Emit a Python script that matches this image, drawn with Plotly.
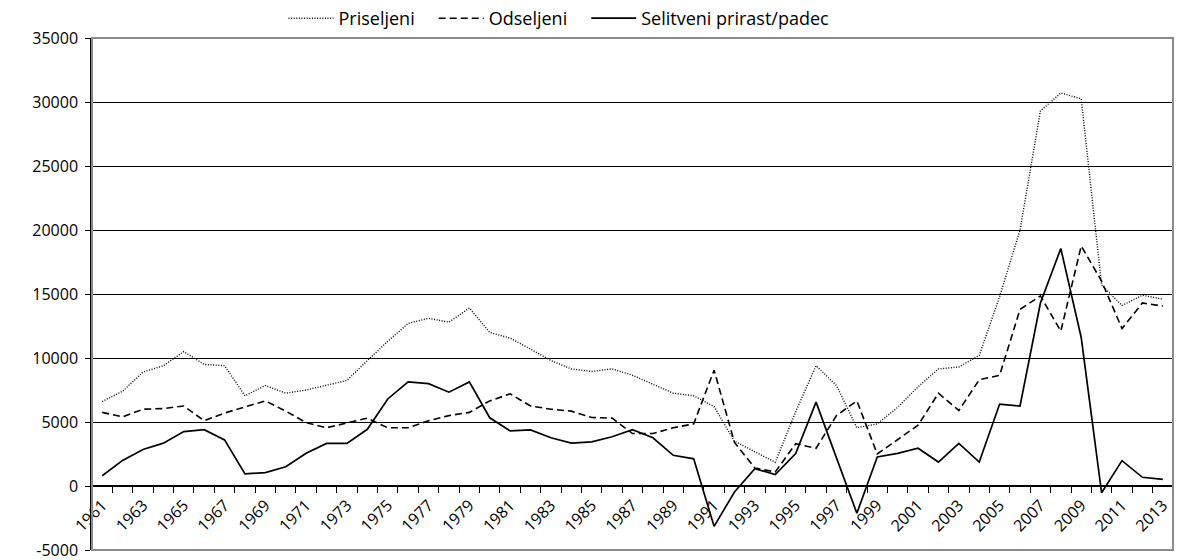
import plotly.graph_objects as go

years = list(range(1961, 2014))

priseljeni = [6600, 7400, 8900, 9400, 10500, 9500, 9400, 7050, 7850, 7250,
              7500, 7850, 8250, 9800, 11300, 12700, 13100, 12800, 13900, 12000,
              11550, 10700, 9800, 9150, 8950, 9150, 8650, 7950, 7250, 7050,
              6200, 3500, 2650, 1850, 5800, 9400, 7850, 4550, 4850, 6150,
              7750, 9150, 9300, 10200, 14800, 20000, 29300, 30700, 30250, 15700,
              14100, 14900, 14600]

odseljeni = [5750, 5400, 6000, 6050, 6250, 5100, 5700, 6150, 6650, 5850,
             4950, 4550, 4950, 5300, 4550, 4550, 5100, 5500, 5750, 6650,
             7200, 6250, 6000, 5850, 5350, 5300, 4100, 4100, 4550, 4850,
             9050, 3400, 1400, 1100, 3300, 2950, 5500, 6650, 2500, 3600,
             4750, 7250, 5900, 8300, 8650, 13800, 14850, 12100, 18750, 16000,
             12300, 14300, 14050]

prirast = [800, 2000, 2850, 3350, 4250, 4400, 3600, 950, 1050, 1500,
           2550, 3330, 3330, 4430, 6800, 8130, 8000, 7330, 8130, 5330,
           4300, 4380, 3770, 3350, 3450, 3850, 4400, 3770, 2400, 2120,
           -3150, -470, 1350, 900, 2530, 6550, 2200, -2130, 2270, 2550,
           2950, 1870, 3330, 1870, 6400, 6250, 14300, 18550, 11600, -530,
           1980, 680, 510]

series_names = ["Priseljeni", "Odseljeni", "Selitveni prirast/padec"]
label_years = list(range(1961, 2014, 2))
y_ticks = list(range(-5000, 35001, 5000))

FONT = "Open Sans"
PAD = "\u00a0\u00a0\u00a0"

fig = go.Figure()
fig.add_trace(go.Scatter(x=years, y=priseljeni, mode="lines", name=series_names[0] + PAD,
                         line=dict(color="black", width=1.4, dash="1px,1.6px")))
fig.add_trace(go.Scatter(x=years, y=odseljeni, mode="lines", name=series_names[1] + PAD,
                         line=dict(color="black", width=1.6, dash="7px,4px")))
fig.add_trace(go.Scatter(x=years, y=prirast, mode="lines", name=series_names[2],
                         line=dict(color="black", width=1.7)))

fig.update_layout(
    width=1177, height=560,
    margin=dict(l=92, r=4, t=38, b=10, autoexpand=False),
    paper_bgcolor="white", plot_bgcolor="white",
    font=dict(family=FONT, size=16, color="black"),
    showlegend=True,
    legend=dict(orientation="h", x=0.432, xanchor="center", y=1.0742, yanchor="top",
                font=dict(size=18), traceorder="normal", itemwidth=45,
                bgcolor="rgba(0,0,0,0)"),
    xaxis=dict(
        range=[1960.5, 2013.5],
        tickmode="array", tickvals=label_years, ticktext=[str(y) for y in label_years],
        tickangle=-45, ticks="", showgrid=False, zeroline=False,
        showline=True, linecolor="black", linewidth=1.5,
        anchor="free", position=0.125,
        tickfont=dict(size=16, color="black"), ticklabelstandoff=3,
        ticklabeloverflow="allow",
        minor=dict(tick0=1960.5, dtick=1, ticks="outside", ticklen=6,
                   tickcolor="black", tickwidth=1.3, showgrid=False),
    ),
    yaxis=dict(
        range=[-5000, 35000],
        tickmode="array", tickvals=y_ticks, ticktext=[str(v) for v in y_ticks],
        ticks="outside", ticklen=5, tickcolor="black", tickwidth=1.2,
        showgrid=True, gridcolor="black", gridwidth=1.3,
        zeroline=True, zerolinecolor="black", zerolinewidth=1.5,
        showline=True, linecolor="black", linewidth=1.5,
        tickfont=dict(size=16, color="black"), ticklabelstandoff=4,
        ticklabeloverflow="allow",
    ),
    shapes=[dict(type="rect", xref="paper", yref="paper", x0=0, x1=1, y0=0, y1=1,
                 line=dict(color="#8a8a8a", width=2), layer="above")],
)

fig.write_html("out.html",
               config={"displayModeBar": False},
               post_script="document.body.style.margin='0px';document.body.style.overflow='hidden';")
